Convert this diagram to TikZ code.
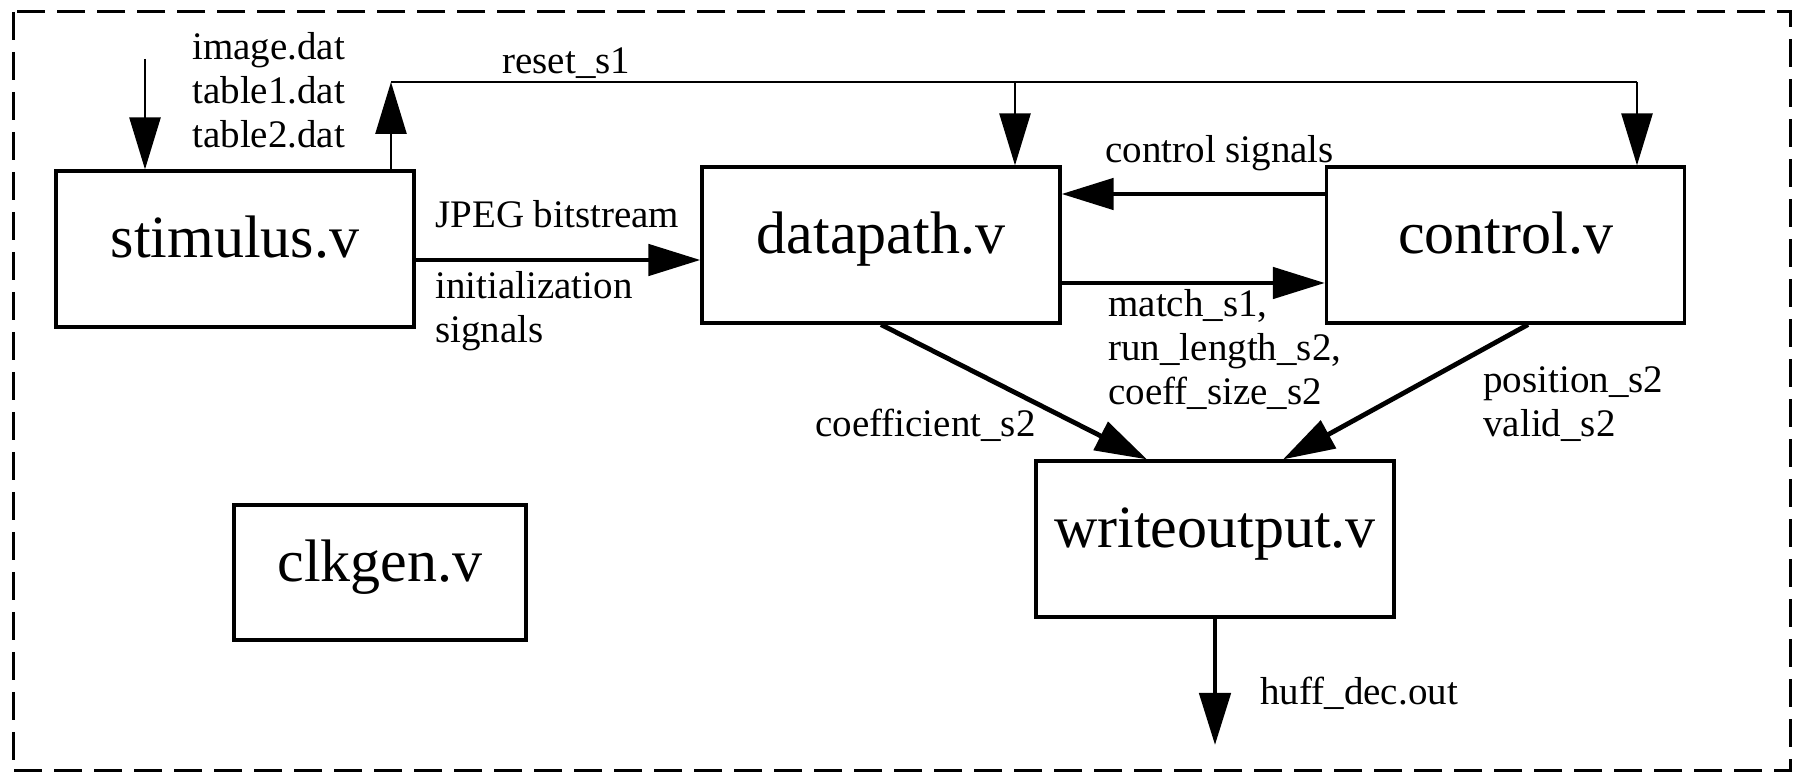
\documentclass[tikz,border=0pt]{standalone}
\usepackage{fontspec}
\setmainfont{Liberation Serif}
\usetikzlibrary{arrows.meta}

\begin{document}
\begin{tikzpicture}[x=0.5pt, y=-0.5pt,
        module/.style={draw, line width=1.6pt, minimum width=179pt, minimum height=78pt, inner sep=0pt, text height=21pt, text depth=12pt, font=\fontsize{30}{36}\selectfont},
        signal_label/.style={anchor=base west, align=left, inner sep=0pt, font=\fontsize{19.5}{22}\selectfont},
        wire/.style={line width=1.3pt, -{Triangle[length=26pt, width=15.5pt]}},
        bus/.style={line width=2.4pt, -{Triangle[length=26pt, width=15.5pt]}}
    ]
    \useasboundingbox (0,0) rectangle (1801,774);

    % Frame
    \draw[line width=1.5pt, dash pattern=on 14pt off 6pt] (13,12) rectangle (1790,771);

    % Modules
    \node[module] (stim) at (235,249) {stimulus.v};
    \node[module] (dp) at (881,245) {datapath.v};
    \node[module] (ctrl) at (1505.5,245) {control.v};
    \node[module] (wo) at (1215,539) {writeoutput.v};
    \node[module, minimum width=146pt, minimum height=67.5pt] (clk) at (380,572.5) {clkgen.v};

    % Free ends
    \coordinate (in) at (145,59);
    \coordinate (rstA) at (391,82);
    \coordinate (rstB) at (1015,82);
    \coordinate (rstC) at (1637,82);
    \coordinate (out) at (1215,745);

    % Input files and reset
    \draw[wire] (in) -- (in |- stim.north);
    \draw[wire] (rstA |- stim.north) -- (rstA);
    \draw[line width=1.3pt] (rstA) -- (rstC);
    \draw[wire] (rstB) -- (rstB |- dp.north);
    \draw[wire] (rstC) -- (rstC |- ctrl.north);

    % Buses
    \draw[bus] ([yshift=-5.5pt]stim.east) -- ([yshift=-5.5pt]stim.east -| dp.west);
    \draw[bus] ([yshift=25.5pt]ctrl.west) -- ([yshift=25.5pt]ctrl.west -| dp.east);
    \draw[bus] ([yshift=-19pt]dp.east) -- ([yshift=-19pt]dp.east -| ctrl.west);
    \draw[bus] (dp.south) -- ([xshift=-34pt]wo.north);
    \draw[bus] ([xshift=11.25pt]ctrl.south) -- ([xshift=34pt]wo.north);
    \draw[bus] (wo.south) -- (out);

    % Signal names (base = last line)
    \node[signal_label] (files) at (192,148) {image.dat\\table1.dat\\table2.dat};
    \node[signal_label] (rstlbl) at (502,74) {reset\_s1};
    \node[signal_label] (jpeg) at (435,228) {JPEG bitstream};
    \node[signal_label] (init) at (435,343) {initialization\\signals};
    \node[signal_label] (ctrlsig) at (1105,163) {control signals};
    \node[signal_label] (match) at (1108,405) {match\_s1,\\run\_length\_s2,\\coeff\_size\_s2};
    \node[signal_label] (coef) at (815,437) {coefficient\_s2};
    \node[signal_label] (pos) at (1483,437) {position\_s2\\valid\_s2};
    \node[signal_label] (huff) at (1260,705) {huff\_dec.out};
\end{tikzpicture}
\end{document}
